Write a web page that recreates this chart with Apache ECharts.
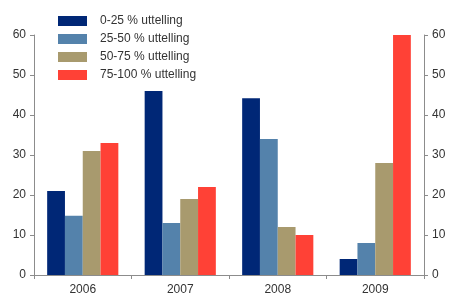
<html>
<head>
    <meta charset="utf-8">
    <title>Uttelling</title>
    <script src="https://cdn.jsdelivr.net/npm/echarts@6/dist/echarts.min.js"></script>
</head>
<body style="margin:0">
<div id="main" style="width: 451px;height:300px;"></div>
<script type="text/javascript">
    // data
    var years = ['2006', '2007', '2008', '2009'];
    var seriesNames = ['0-25 % uttelling', '25-50 % uttelling', '50-75 % uttelling', '75-100 % uttelling'];
    var s0to25 = [21, 46, 44.2, 4];
    var s25to50 = [14.8, 13, 34, 8];
    var s50to75 = [31, 19, 12, 28];
    var s75to100 = [33, 22, 10, 60];
    var colors = ['#002776', '#5482ab', '#a89a6e', '#ff4136'];

    var myChart = echarts.init(document.getElementById('main'));
    var axisGray = '#8c8c8c';
    var yAxisBase = {
        type: 'value',
        min: 0,
        max: 60,
        interval: 10,
        splitLine: { show: false },
        axisLine: { show: true, lineStyle: { color: axisGray } },
        axisTick: { show: true, length: 4, lineStyle: { color: axisGray } },
        axisLabel: { color: '#333', fontSize: 12, fontFamily: 'Liberation Sans', margin: 8 }
    };
    var data = [s0to25, s25to50, s50to75, s75to100];
    myChart.setOption({
        animation: false,
        color: colors,
        grid: { left: 34, right: 27, top: 35, bottom: 25 },
        legend: {
            orient: 'vertical',
            left: 58,
            top: 15,
            padding: 0,
            itemWidth: 29,
            itemHeight: 10,
            itemGap: 6,
            icon: 'rect',
            textStyle: { color: '#333', fontSize: 12, fontFamily: 'Liberation Sans', padding: [0, 0, 0, 8] },
            data: seriesNames
        },
        xAxis: {
            type: 'category',
            data: years,
            axisLine: { lineStyle: { color: axisGray } },
            axisTick: { show: true, length: 4, lineStyle: { color: axisGray } },
            axisLabel: { color: '#333', fontSize: 12, fontFamily: 'Liberation Sans', margin: 9 }
        },
        yAxis: [
            Object.assign({}, yAxisBase, { position: 'left' }),
            Object.assign({}, yAxisBase, { position: 'right' })
        ],
        series: seriesNames.map(function (n, i) {
            return {
                name: n,
                type: 'bar',
                data: data[i],
                barGap: '0%',
                barCategoryGap: '27%'
            };
        })
    });
</script>
</body>
</html>
